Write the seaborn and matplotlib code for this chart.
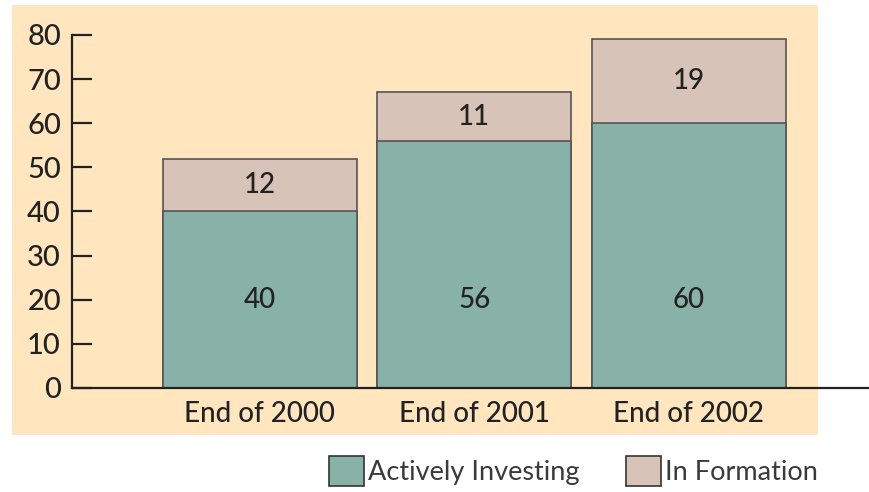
import matplotlib
matplotlib.use("Agg")
import matplotlib.pyplot as plt
import seaborn as sns
import pandas as pd
from matplotlib.patches import Patch

categories = ["End of 2000", "End of 2001", "End of 2002"]
actively_investing = [40, 56, 60]
in_formation = [12, 11, 19]
yticks = [0, 10, 20, 30, 40, 50, 60, 70, 80]

sns.set_theme(style="white")
plt.rcParams['font.family'] = ['Lato', 'DejaVu Sans']

green = "#88B2A8"
pink = "#D8C3B9"
peach = "#FFE6BF"
dark = "#222222"

df = pd.DataFrame({
    "cat": categories,
    "active": actively_investing,
    "form": in_formation,
})
df["total"] = df["active"] + df["form"]

fig = plt.figure(figsize=(8.7, 4.92), dpi=100)
fig.patch.set_facecolor("white")
W, H = 870, 492

bg = fig.add_axes([12 / W, 1 - 435 / H, (818 - 12) / W, (435 - 5) / H], zorder=-10)
bg.set_facecolor(peach)
bg.set_xticks([])
bg.set_yticks([])
for s in bg.spines.values():
    s.set_visible(False)

ax = fig.add_axes([72 / W, 1 - 388 / H, (870 - 72) / W, (388 - 35) / H], zorder=1)
ax.set_facecolor("none")

sns.barplot(data=df, x="cat", y="total", color=pink, width=0.905,
            edgecolor="#555555", linewidth=1.2, saturation=1, ax=ax, zorder=2)
sns.barplot(data=df, x="cat", y="active", color=green, width=0.905,
            edgecolor="#555555", linewidth=1.2, saturation=1, ax=ax, zorder=3)

ax.set_xlim(-0.876, 2.846)
ax.set_ylim(0, 80)
ax.set_yticks(yticks)
ax.set_yticklabels([str(v) for v in yticks], fontsize=21, color=dark, fontweight="medium")
ax.tick_params(axis="y", direction="in", length=14.4, width=1.6, color=dark, pad=8, left=True)
ax.tick_params(axis="x", length=0, pad=9, labelcolor=dark)
for t in ax.get_xticklabels():
    t.set_fontsize(20)
    t.set_fontweight("medium")
ax.set_xlabel("")
ax.set_ylabel("")
for s in ["top", "right"]:
    ax.spines[s].set_visible(False)
for s in ["left", "bottom"]:
    ax.spines[s].set_linewidth(1.6)
    ax.spines[s].set_color(dark)
    ax.spines[s].set_zorder(5)

for i, (a, f) in enumerate(zip(actively_investing, in_formation)):
    ax.text(i, 20, str(a), ha="center", va="center", fontsize=20, color=dark,
            fontweight="medium", zorder=6)
    ax.text(i, a + f / 2, str(f), ha="center", va="center", fontsize=20, color=dark,
            fontweight="medium", zorder=6)

handles = [Patch(facecolor=green, edgecolor="#333333", linewidth=1.2),
           Patch(facecolor=pink, edgecolor="#333333", linewidth=1.2)]
leg = fig.legend(handles, ["Actively Investing", "In Formation"], loc="center right",
                 bbox_to_anchor=(829 / W, 1 - 471 / H), ncol=2, frameon=False,
                 fontsize=19.5, handlelength=1.3, handleheight=1.3, handletextpad=0.15,
                 columnspacing=1.7, borderaxespad=0)
for t in leg.get_texts():
    t.set_color("#3a3a3a")

fig.savefig("out.png", dpi=100, facecolor="white")
